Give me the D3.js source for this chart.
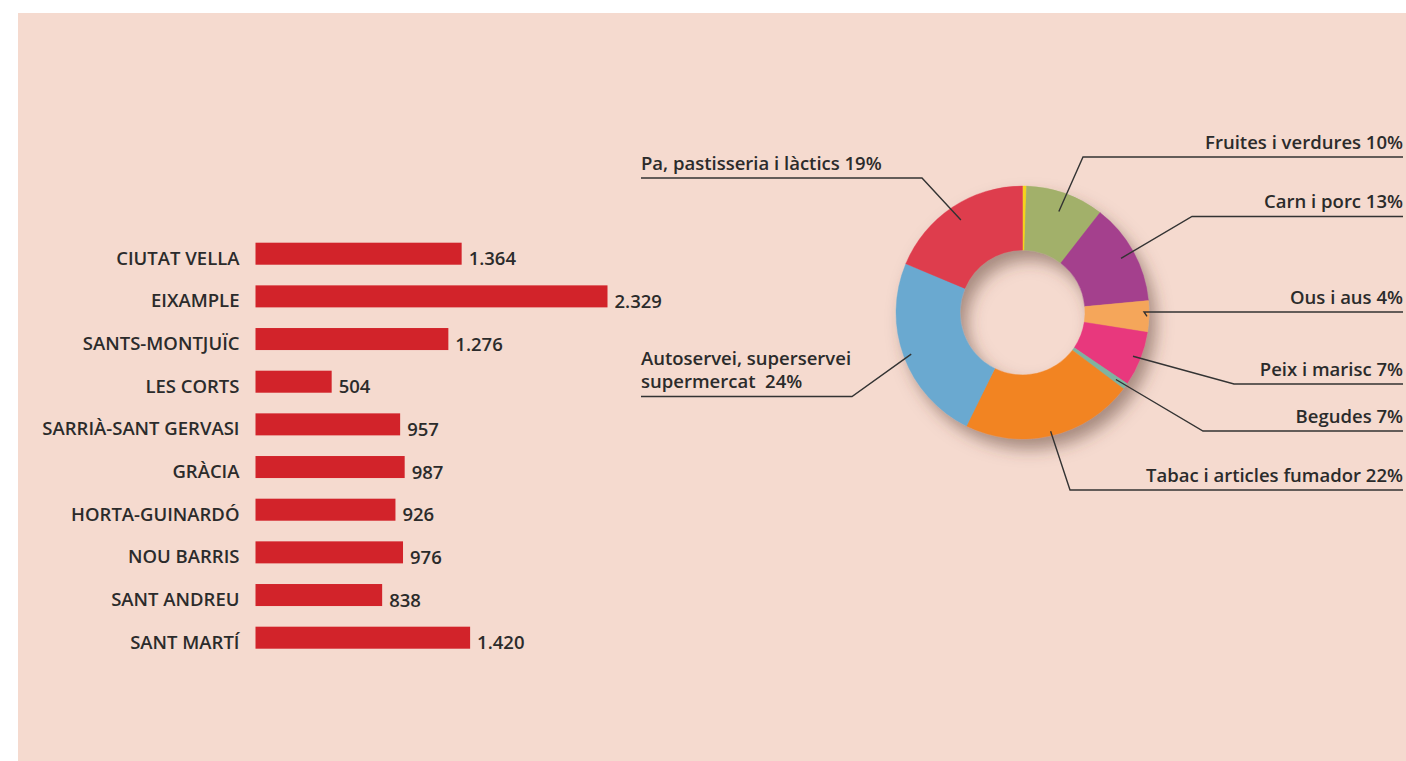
<!DOCTYPE html>
<html>
<head>
<meta charset="utf-8">
<script src="https://cdn.jsdelivr.net/npm/d3@7"></script>
<style>
  html, body { margin: 0; padding: 0; background: #fff; }
  svg { display: block; }
  text { font-family: "Open Sans", "Noto Sans", sans-serif; font-weight: 600; fill: #2b2b2b; white-space: pre; }
</style>
</head>
<body>
<svg id="chart"></svg>
<script>
const w = 1406;
const h = 761;

// districts (bar chart)
const districts = ['CIUTAT VELLA', 'EIXAMPLE', 'SANTS-MONTJUÏC', 'LES CORTS', 'SARRIÀ-SANT GERVASI',
  'GRÀCIA', 'HORTA-GUINARDÓ', 'NOU BARRIS', 'SANT ANDREU', 'SANT MARTÍ'];
const districtValues = [1364, 2329, 1276, 504, 957, 987, 926, 976, 838, 1420];

// donut slices, clockwise from the top (share as drawn)
const sectors = ['', 'Fruites i verdures', 'Carn i porc', 'Ous i aus', 'Peix i marisc', 'Begudes',
  'Tabac i articles fumador', 'Autoservei, superservei supermercat', 'Pa, pastisseria i làctics'];
const sectorShares = [0.5, 10, 13, 4, 7, 0.8, 22, 24, 18.7];
const sectorColors = ['#f6d31c', '#a2b06b', '#a4408d', '#f5a65a', '#e8387d', '#7fb3a0', '#f28423', '#6aa9d0', '#de3d4e'];

// labels as printed
const labelLines = [
  ['Fruites i verdures 10%'],
  ['Carn i porc 13%'],
  ['Ous i aus 4%'],
  ['Peix i marisc 7%'],
  ['Begudes 7%'],
  ['Tabac i articles fumador 22%'],
  ['Autoservei, superservei', 'supermercat  24%'],
  ['Pa, pastisseria i làctics 19%']
];
const labelSide = ['right', 'right', 'right', 'right', 'right', 'right', 'left', 'left'];
const labelLineY = [157, 216.5, 312, 384, 431, 490, 396.5, 178];
const labelElbowX = [1083, 1192, 1144, 1234, 1203, 1070, 852, 922];
const labelRadius = [0.7, 0.78, 0.97, 0.88, 0.82, 0.93, 0.88, 0.76];

const svg = d3.select("#chart")
  .attr("width", w)
  .attr("height", h)
  .attr("viewBox", [0, 0, w, h]);

svg.append("rect")
  .attr("x", 18)
  .attr("y", 13)
  .attr("width", w - 18)
  .attr("height", h - 13)
  .attr("fill", "#f5dacf");

// ---- bar chart ----
const fmt = d3.formatLocale({ decimal: ",", thousands: ".", grouping: [3], currency: ["", "€"] }).format(",d");

const barX = d3.scaleLinear()
  .domain([0, 2329])
  .range([255.5, 607.5]);

const barY = d3.scaleBand()
  .domain(districts)
  .range([242.7, 648.7])
  .paddingInner(0.484)
  .paddingOuter(0);

const bars = svg.append("g");

bars.selectAll("rect")
  .data(districts)
  .enter()
  .append("rect")
  .attr("x", barX(0))
  .attr("y", d => barY(d))
  .attr("width", (d, i) => barX(districtValues[i]) - barX(0))
  .attr("height", barY.bandwidth())
  .attr("fill", "#d2232a");

bars.selectAll("text.cat")
  .data(districts)
  .enter()
  .append("text")
  .attr("class", "cat")
  .attr("x", barX(0) - 16)
  .attr("y", d => barY(d) + barY.bandwidth())
  .attr("text-anchor", "end")
  .attr("font-size", 18.5)
  .text(d => d);

bars.selectAll("text.val")
  .data(districts)
  .enter()
  .append("text")
  .attr("class", "val")
  .attr("x", (d, i) => barX(districtValues[i]) + 7)
  .attr("y", d => barY(d) + barY.bandwidth() + 0.5)
  .attr("font-size", 18.5)
  .text((d, i) => fmt(districtValues[i]));

// ---- donut ----
const cx = 1022.5;
const cy = 312.5;
const outerR = 126.5;
const innerR = 62.5;

const defs = svg.append("defs");
const shadow = defs.append("filter")
  .attr("id", "shadow")
  .attr("x", "-30%")
  .attr("y", "-30%")
  .attr("width", "160%")
  .attr("height", "160%");
shadow.append("feDropShadow")
  .attr("dx", 7)
  .attr("dy", 10)
  .attr("stdDeviation", 8)
  .attr("flood-color", "#5a3a30")
  .attr("flood-opacity", 0.5);

const pie = d3.pie()
  .sort(null)
  .value(d => d);

const arcs = pie(sectorShares);

const arc = d3.arc()
  .innerRadius(innerR)
  .outerRadius(outerR);

const donut = svg.append("g")
  .attr("transform", `translate(${cx}, ${cy})`);

donut.append("g")
  .attr("filter", "url(#shadow)")
  .selectAll("path")
  .data(arcs)
  .enter()
  .append("path")
  .attr("d", arc)
  .attr("fill", (d, i) => sectorColors[i])
  .attr("stroke", (d, i) => sectorColors[i])
  .attr("stroke-width", 0.4);

// ---- leader lines and labels ----
const labelArcs = arcs.slice(1);

const leaders = svg.append("g");

labelArcs.forEach((a, i) => {
  const mid = (a.startAngle + a.endAngle) / 2;
  const r = innerR + (outerR - innerR) * labelRadius[i];
  const px = cx + r * Math.sin(mid);
  const py = cy - r * Math.cos(mid);
  const side = labelSide[i];
  const yL = labelLineY[i];
  const endX = side === 'right' ? 1403 : 641;

  leaders.append("path")
    .attr("d", d3.line()([[px, py], [labelElbowX[i], yL], [endX, yL]]))
    .attr("fill", "none")
    .attr("stroke", "#333")
    .attr("stroke-width", 1.4);

  const lines = labelLines[i];
  leaders.selectAll(null)
    .data(lines)
    .enter()
    .append("text")
    .attr("x", side === 'right' ? 1403 : 641)
    .attr("y", (d, j) => yL - 8.5 - (lines.length - 1 - j) * 23.5)
    .attr("text-anchor", side === 'right' ? "end" : "start")
    .attr("font-size", 18.5)
    .text(d => d);
});
</script>
</body>
</html>
